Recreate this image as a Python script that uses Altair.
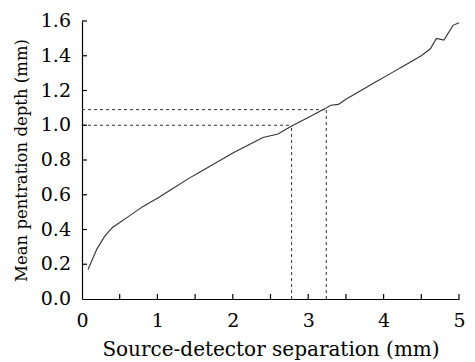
import altair as alt
import pandas as pd

# Curve data
sep = [0.08, 0.12, 0.2, 0.3, 0.4, 0.5, 0.6, 0.7, 0.8, 0.9, 1.0, 1.2, 1.4, 1.6, 1.8,
       2.0, 2.2, 2.4, 2.5, 2.6, 2.7, 2.8, 3.0, 3.2, 3.3, 3.4, 3.5, 3.7, 3.9, 4.1,
       4.3, 4.5, 4.62, 4.70, 4.80, 4.92, 5.0]
depth = [0.17, 0.21, 0.29, 0.36, 0.41, 0.44, 0.47, 0.50, 0.53, 0.555, 0.58, 0.635,
         0.69, 0.74, 0.79, 0.84, 0.885, 0.93, 0.94, 0.95, 0.975, 1.0, 1.045, 1.09,
         1.115, 1.12, 1.15, 1.20, 1.25, 1.30, 1.35, 1.40, 1.44, 1.50, 1.49, 1.575, 1.59]

# Guide lines (x where curve reaches the depth)
guide_x = [2.78, 3.24]
guide_y = [1.0, 1.09]

x_ticks = [0.5, 1, 1.5, 2, 2.5, 3, 3.5, 4, 4.5, 5]
y_ticks = [0.2, 0.4, 0.6, 0.8, 1.0, 1.2, 1.4, 1.6]
x_labels = [0, 1, 2, 3, 4, 5]
y_labels = ["0.0", "0.2", "0.4", "0.6", "0.8", "1.0", "1.2", "1.4", "1.6"]

FONT = "DejaVu Serif"

df = pd.DataFrame({"sep": sep, "depth": depth})
gdf = pd.DataFrame({"gx": guide_x, "gy": guide_y, "zero": [0, 0]})
xt = pd.DataFrame({"v": x_ticks})
yt = pd.DataFrame({"v": y_ticks})
yl = pd.DataFrame({"lab": y_labels, "v": [float(s) for s in y_labels]})

xscale = alt.Scale(domain=[0, 5], nice=False, zero=False)
yscale = alt.Scale(domain=[0, 1.6], nice=False)

xaxis = alt.Axis(values=x_labels, format="d", tickSize=0, labelPadding=12,
                 labelFontSize=19,
                 title="Source-detector separation (mm)",
                 titleFontSize=20, titlePadding=9)
yaxis = alt.Axis(values=[float(s) for s in y_labels], tickSize=0, labels=False,
                 title="Mean pentration depth (mm)",
                 titleFontSize=16.5, titlePadding=52)

line = alt.Chart(df).mark_line(color="#333333", strokeWidth=1.1).encode(
    x=alt.X("sep:Q", scale=xscale, axis=xaxis),
    y=alt.Y("depth:Q", scale=yscale, axis=yaxis),
)

hguide = alt.Chart(gdf).mark_rule(color="#333333", strokeWidth=1, strokeDash=[3, 3]).encode(
    x=alt.X("zero:Q", scale=xscale), x2="gx:Q",
    y=alt.Y("gy:Q", scale=yscale),
)
vguide = alt.Chart(gdf).mark_rule(color="#333333", strokeWidth=1, strokeDash=[3, 3]).encode(
    x=alt.X("gx:Q", scale=xscale),
    y=alt.Y("zero:Q", scale=yscale), y2="gy:Q",
)

xtick = alt.Chart(xt).mark_rule(color="black", strokeWidth=1.2).encode(
    x=alt.X("v:Q", scale=xscale),
    y=alt.value(278), y2=alt.value(273),
)
ytick = alt.Chart(yt).mark_rule(color="black", strokeWidth=1.2).encode(
    y=alt.Y("v:Q", scale=yscale),
    x=alt.value(0), x2=alt.value(5),
)
ylab = alt.Chart(yl).mark_text(font=FONT, fontSize=19, color="black",
                               align="right", baseline="middle").encode(
    y=alt.Y("v:Q", scale=yscale),
    x=alt.value(-11),
    text="lab:N",
)

chart = alt.layer(line, hguide, vguide, xtick, ytick, ylab).properties(
    width=377, height=278,
    autosize=alt.AutoSizeParams(type="none"),
    padding={"left": 74, "top": 13, "right": 8, "bottom": 63},
    background="white",
).configure_view(stroke=None).configure_axis(
    labelOverlap=False, labelFlush=False, labelBound=False,
    labelFont=FONT, labelColor="black", titleFont=FONT, titleColor="black",
    titleFontWeight="normal", grid=False, domainColor="black", domainWidth=1.2,
)

chart.save("out.html", embed_options={"renderer": "svg", "actions": False})
